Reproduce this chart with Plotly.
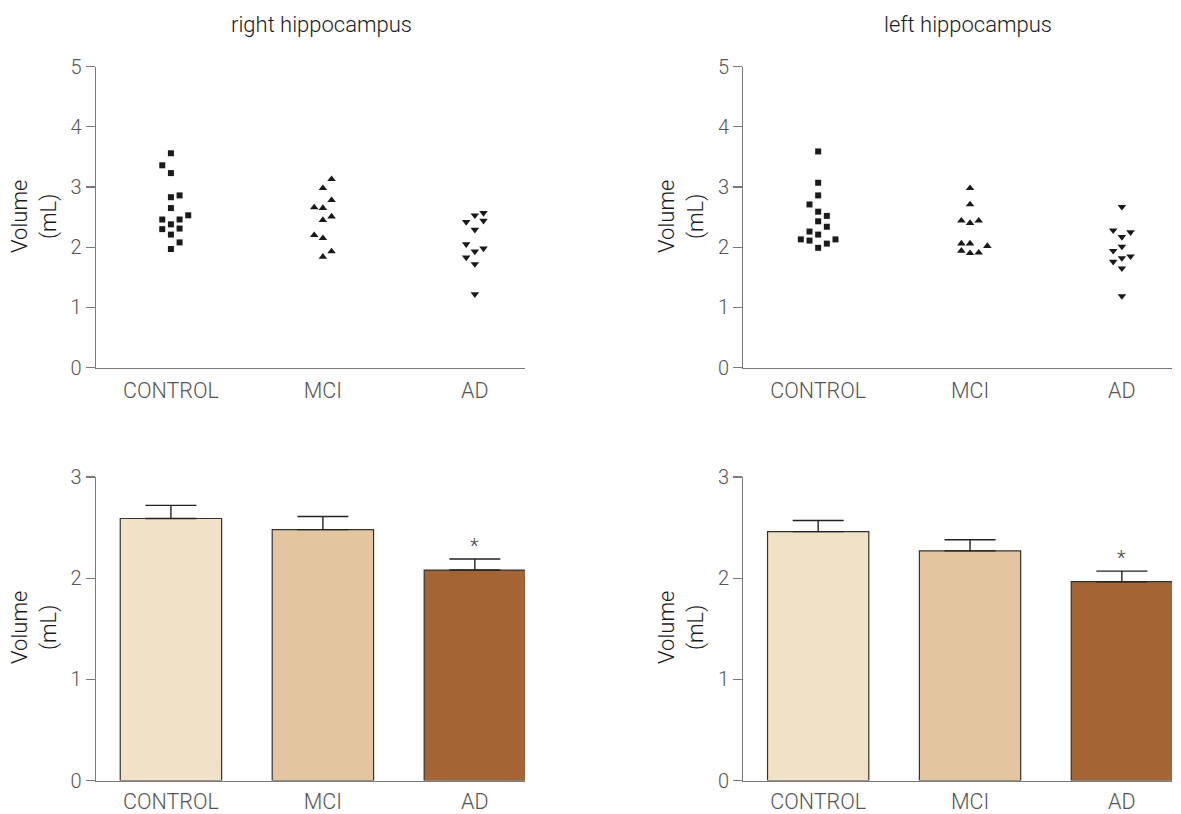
import plotly.graph_objects as go

categories = ["CONTROL", "MCI", "AD"]

# Scatter data: right hippocampus (values, mL) and swarm column slots
right_control = [3.56, 3.36, 3.23, 2.86, 2.83, 2.65, 2.53, 2.46, 2.46, 2.38, 2.30, 2.31, 2.21, 2.08, 1.97]
right_control_slot = [0, -1, 0, 1, 0, 0, 2, -1, 1, 0, -1, 1, 0, 1, 0]
right_mci = [3.13, 2.98, 2.78, 2.66, 2.65, 2.51, 2.45, 2.20, 2.15, 1.93, 1.84]
right_mci_slot = [1, 0, 1, -1, 0, 1, 0, -1, 0, 1, 0]
right_ad = [2.57, 2.53, 2.42, 2.44, 2.29, 2.05, 1.98, 1.93, 1.83, 1.72, 1.22]
right_ad_slot = [1, 0, -1, 1, 0, -1, 1, 0, -1, 0, 0]

# Scatter data: left hippocampus
left_control = [3.59, 3.07, 2.86, 2.71, 2.59, 2.52, 2.43, 2.34, 2.26, 2.21, 2.13, 2.13, 2.11, 2.06, 1.99]
left_control_slot = [0, 0, 0, -1, 0, 1, 0, 1, -1, 0, -2, 2, -1, 1, 0]
left_mci = [2.98, 2.71, 2.44, 2.44, 2.40, 2.06, 2.06, 2.02, 1.94, 1.90, 1.91]
left_mci_slot = [0, 0, -1, 1, 0, -1, 0, 2, -1, 0, 1]
left_ad = [2.67, 2.28, 2.25, 2.17, 2.01, 1.94, 1.85, 1.82, 1.76, 1.65, 1.19]
left_ad_slot = [0, -1, 1, 0, 0, -1, 1, 0, -1, 0, 0]

# Bar data: mean volume and SEM
right_mean = [2.59, 2.48, 2.08]
right_sem = [0.13, 0.13, 0.11]
left_mean = [2.46, 2.27, 1.965]
left_sem = [0.11, 0.11, 0.105]
significance = ["", "", "*"]

panel_titles = ["right hippocampus", "left hippocampus"]
y_title = "Volume<br>(mL)"

bar_colors = ["#F0E1C7", "#E3C69F", "#A56433"]
SLOT = 0.057
FONT = "Roboto"
TICK_COLOR = "#555555"
AXIS_COLOR = "#7a7a7a"

fig = go.Figure()

scatter_sets = [
    ("x", "y", [(right_control, right_control_slot, "square"),
                (right_mci, right_mci_slot, "triangle-up"),
                (right_ad, right_ad_slot, "triangle-down")]),
    ("x2", "y2", [(left_control, left_control_slot, "square"),
                  (left_mci, left_mci_slot, "triangle-up"),
                  (left_ad, left_ad_slot, "triangle-down")]),
]
for xa, ya, groups in scatter_sets:
    for gi, (vals, slots, sym) in enumerate(groups):
        fig.add_trace(go.Scatter(
            x=[gi + s * SLOT for s in slots], y=vals, mode="markers",
            xaxis=xa, yaxis=ya, showlegend=False,
            marker=dict(symbol=sym, size=6 if sym == "square" else 7.5, color="#1a1a1a",
                        line=dict(width=0)),
            cliponaxis=False,
        ))

for xa, ya, means, sems in [("x3", "y3", right_mean, right_sem), ("x4", "y4", left_mean, left_sem)]:
    fig.add_trace(go.Bar(
        x=[0, 1, 2], y=means, xaxis=xa, yaxis=ya, width=0.667, showlegend=False,
        marker=dict(color=bar_colors, line=dict(color="#333333", width=1.2)),
        error_y=dict(type="data", symmetric=False, array=sems, arrayminus=[0, 0, 0],
                     color="#222222", thickness=1.4, width=25.5),
    ))
    for i, s in enumerate(significance):
        if s:
            fig.add_annotation(x=i, y=means[i] + sems[i], xref=xa, yref=ya, text=s,
                               showarrow=False, yanchor="bottom", yshift=-1,
                               font=dict(family=FONT, size=20, color="#444444", weight=300))

xl = [96 / 1181, 525 / 1181]
xr = [743.3 / 1181, 1172 / 1181]
ytop = [(814 - 367.7) / 814, (814 - 66.5) / 814]
ybot = [(814 - 780.5) / 814, (814 - 477) / 814]

xcommon = dict(range=[-0.493, 2.33], tickvals=[0, 1, 2], ticktext=categories,
               showline=True, linecolor=AXIS_COLOR, linewidth=1.3, ticks="outside",
               tickcolor="rgba(0,0,0,0)", automargin=False,
               showgrid=False, zeroline=False, fixedrange=True,
               tickfont=dict(family=FONT, size=21.5, color=TICK_COLOR, weight=300))
ycommon = dict(showline=True, linecolor=AXIS_COLOR, linewidth=1.3, ticks="outside",
               ticklen=9, tickcolor=AXIS_COLOR, tickwidth=1.3, showgrid=False,
               zeroline=False, fixedrange=True, automargin=False,
               tickfont=dict(family=FONT, size=20, color=TICK_COLOR, weight=300))

fig.update_layout(
    template="none",
    width=1181, height=814, margin=dict(l=0, r=0, t=0, b=0, pad=0),
    paper_bgcolor="white", plot_bgcolor="white", bargap=0,
    xaxis=dict(domain=xl, anchor="y", ticklen=3, **xcommon),
    xaxis2=dict(domain=xr, anchor="y2", ticklen=3, **xcommon),
    xaxis3=dict(domain=xl, anchor="y3", ticklen=1, **xcommon),
    xaxis4=dict(domain=xr, anchor="y4", ticklen=1, **xcommon),
    yaxis=dict(domain=ytop, anchor="x", range=[0, 5], tickvals=[0, 1, 2, 3, 4, 5], **ycommon),
    yaxis2=dict(domain=ytop, anchor="x2", range=[0, 5], tickvals=[0, 1, 2, 3, 4, 5], **ycommon),
    yaxis3=dict(domain=ybot, anchor="x3", range=[0, 3], tickvals=[0, 1, 2, 3], **ycommon),
    yaxis4=dict(domain=ybot, anchor="x4", range=[0, 3], tickvals=[0, 1, 2, 3], **ycommon),
)

for cx, t in zip([321.5 / 1181, 968 / 1181], panel_titles):
    fig.add_annotation(x=cx, y=(814 - 25) / 814, xref="paper", yref="paper", text=t,
                       showarrow=False, xanchor="center", yanchor="middle",
                       font=dict(family=FONT, size=22, color="#1a1a1a", weight=300))

for cx in [34 / 1181, 681 / 1181]:
    for cy in [(814 - 217) / 814, (814 - 628) / 814]:
        fig.add_annotation(x=cx, y=cy, xref="paper", yref="paper", text=y_title,
                           textangle=-90, showarrow=False, xanchor="center", yanchor="middle",
                           font=dict(family=FONT, size=22, color="#1a1a1a", weight=300))

fig.write_html("out.html", config={"displayModeBar": False, "staticPlot": True},
               post_script="document.body.style.margin='0px';document.body.style.overflow='hidden';")
